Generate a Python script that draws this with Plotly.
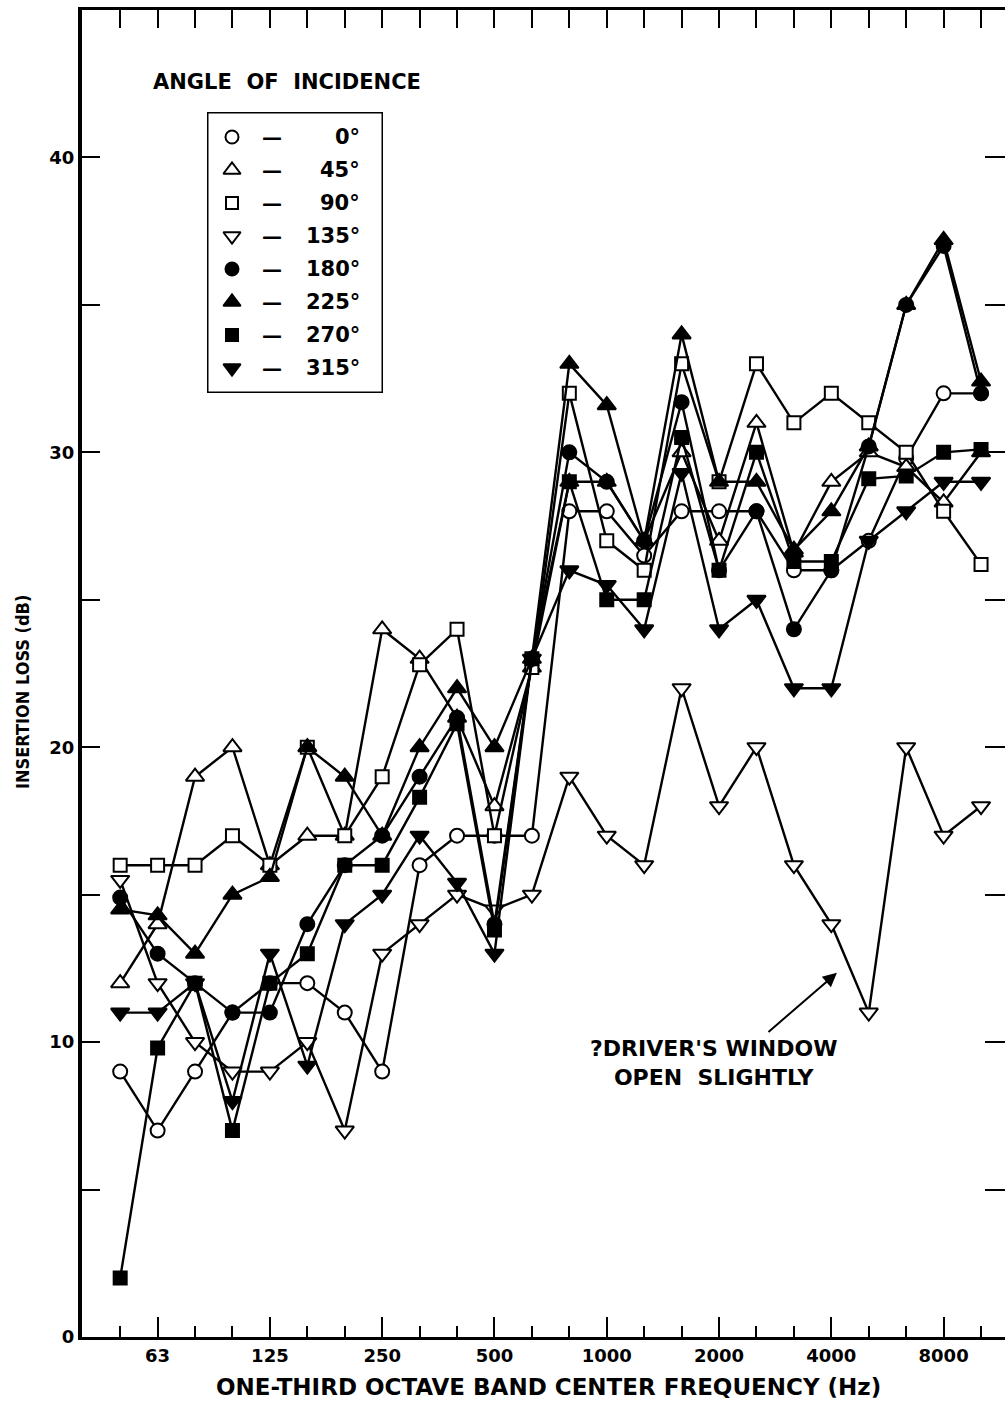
import plotly.graph_objects as go

# One-third octave band centre frequencies (Hz)
FREQ_BANDS = [50, 63, 80, 100, 125, 160, 200, 250, 315, 400, 500, 630,
              800, 1000, 1250, 1600, 2000, 2500, 3150, 4000, 5000, 6300, 8000, 10000]
LABELED_BANDS = [63, 125, 250, 500, 1000, 2000, 4000, 8000]

ANGLES = ["0°", "45°", "90°", "135°", "180°", "225°", "270°", "315°"]

# Insertion loss (dB) per band for each angle of incidence
IL_0 = [9, 7, 9, 11, 12, 12, 11, 9, 16, 17, 17, 17,
        28, 28, 26.5, 28, 28, 28, 26, 26, 27, 29.8, 32, 32]
IL_45 = [12, 14, 19, 20, 16, 17, 17, 24, 23, 21, 18, 22.7,
         29, 29, 27, 30, 27, 31, 26.6, 29, 30, 29.5, 28.3, 30]
IL_90 = [16, 16, 16, 17, 16, 20, 17, 19, 22.8, 24, 17, 22.7,
         32, 27, 26, 33, 29, 33, 31, 32, 31, 30, 28, 26.2]
IL_135 = [15.5, 12, 10, 9, 9, 10, 7, 13, 14, 15, 14.5, 15,
          19, 17, 16, 22, 18, 20, 16, 14, 11, 20, 17, 18]
IL_180 = [14.9, 13, 12, 11, 11, 14, 16, 17, 19, 21, 14, 23,
          30, 29, 27, 31.7, 26, 28, 24, 26, 30.2, 35, 37, 32]
IL_225 = [14.5, 14.3, 13, 15, 15.6, 20, 19, 17, 20, 22, 20, 23,
          33, 31.6, 27, 34, 29, 29, 26.7, 28, 30.2, 35, 37.2, 32.4]
IL_270 = [2, 9.8, 12, 7, 12, 13, 16, 16, 18.3, 20.8, 13.8, 23,
          29, 25, 25, 30.5, 26, 30, 26.3, 26.3, 29.1, 29.2, 30, 30.1]
IL_315 = [11, 11, 12, 8, 13, 9.2, 14, 15, 17, 15.4, 13, 23,
          26, 25.5, 24, 29.3, 24, 25, 22, 22, 27, 28, 29, 29]

SERIES = [IL_0, IL_45, IL_90, IL_135, IL_180, IL_225, IL_270, IL_315]

# marker symbol, fill, size for each angle
STYLES = [
    ("circle", "white", 14),
    ("triangle-up", "white", 16),
    ("square", "white", 13),
    ("triangle-down", "white", 16),
    ("circle", "black", 14),
    ("triangle-up", "black", 16),
    ("square", "black", 13),
    ("triangle-down", "black", 16),
]

W, H = 1005, 1404
L, R, T, B = 82, 0, 10, 67
FONT = "DejaVu Sans"

band_pos = list(range(len(FREQ_BANDS)))
label_pos = [FREQ_BANDS.index(f) for f in LABELED_BANDS]


def px_x(px):
    return (px - L) / (W - L - R)


def px_y(py):
    return (H - B - py) / (H - T - B)


fig = go.Figure()

for vals, (sym, fill, size) in zip(SERIES, STYLES):
    fig.add_trace(go.Scatter(
        x=band_pos, y=vals, mode="lines+markers",
        line=dict(color="black", width=2.4),
        marker=dict(symbol=sym, size=size, color=fill,
                    line=dict(color="black", width=2)),
        showlegend=False, hoverinfo="skip", cliponaxis=False,
    ))

# companion axes for the top and right tick rows
fig.add_trace(go.Scatter(x=[None], y=[None], xaxis="x2", yaxis="y2",
                         showlegend=False, hoverinfo="skip"))

# legend panel drawn on its own pixel-scaled axes
row_y = [137 + 33 * i for i in range(len(ANGLES))]
for (sym, fill, size), yy in zip(STYLES, row_y):
    fig.add_trace(go.Scatter(
        x=[232], y=[yy], xaxis="x3", yaxis="y3", mode="markers",
        marker=dict(symbol=sym, size=size - 1, color=fill,
                    line=dict(color="black", width=2)),
        showlegend=False, hoverinfo="skip", cliponaxis=False,
    ))

annotations = []
for name, yy in zip(ANGLES, row_y):
    annotations.append(dict(x=272, y=yy, xref="x3", yref="y3", text="<b>—</b>",
                            xanchor="center", yanchor="middle", showarrow=False,
                            font=dict(family=FONT, size=20, color="black")))
    annotations.append(dict(x=362, y=yy, xref="x3", yref="y3", text=name,
                            xanchor="right", yanchor="middle", showarrow=False,
                            font=dict(family=FONT, size=21, color="black", weight="bold")))

annotations += [
    dict(x=px_x(287), y=px_y(82), xref="paper", yref="paper",
         xanchor="center", yanchor="middle",
         text="ANGLE  OF  INCIDENCE", showarrow=False,
         font=dict(family=FONT, size=21, color="black", weight="bold")),
    dict(x=px_x(22), y=px_y(692), xref="paper", yref="paper", textangle=-90,
         xanchor="center", yanchor="middle",
         text="INSERTION LOSS (dB)", showarrow=False,
         font=dict(family="DejaVu Sans Condensed", size=18, color="black", weight="bold")),
    dict(x=px_x(548), y=px_y(1387), xref="paper", yref="paper",
         xanchor="center", yanchor="middle",
         text="ONE-THIRD OCTAVE BAND CENTER FREQUENCY (Hz)", showarrow=False,
         font=dict(family=FONT, size=23, color="black", weight="bold")),
    dict(x=15.85, y=9.3, xref="x", yref="y", xanchor="center", yanchor="middle",
         text="?DRIVER'S WINDOW<br>OPEN  SLIGHTLY", showarrow=False, align="center",
         font=dict(family=FONT, size=22, color="black", weight="bold")),
    dict(x=19.15, y=12.35, ax=17.28, ay=10.3, xref="x", yref="y",
         axref="x", ayref="y", text="", showarrow=True,
         arrowhead=2, arrowsize=1.4, arrowwidth=2, arrowcolor="black"),
]

tickfont = dict(family=FONT, size=18, color="black", weight="bold")
xr = [-1.02, 23.64]
yr = [0, 45]

fig.update_layout(
    width=W, height=H,
    margin=dict(l=L, r=R, t=T, b=B, autoexpand=False),
    paper_bgcolor="white", plot_bgcolor="white",
    xaxis=dict(range=xr, tickvals=label_pos, ticktext=[str(f) for f in LABELED_BANDS],
               ticks="inside", ticklen=20, tickwidth=2, tickcolor="black",
               minor=dict(tick0=0, dtick=1, ticks="inside", ticklen=11,
                          tickwidth=2, tickcolor="black"),
               showline=True, linewidth=3, linecolor="black",
               showgrid=False, zeroline=False, tickfont=tickfont, anchor="y"),
    xaxis2=dict(range=xr, overlaying="x", side="top", anchor="y2",
                tickvals=band_pos, ticks="inside", ticklen=18, tickwidth=2,
                tickcolor="black", showticklabels=False,
                showline=True, linewidth=3, linecolor="black",
                showgrid=False, zeroline=False),
    yaxis=dict(range=yr, tickvals=list(range(0, 45, 5)),
               ticktext=[str(v) if v % 10 == 0 else "" for v in range(0, 45, 5)],
               ticks="inside", ticklen=18, tickwidth=2, tickcolor="black",
               showline=True, linewidth=4, linecolor="black",
               showgrid=False, zeroline=False, tickfont=tickfont, anchor="x"),
    yaxis2=dict(range=yr, overlaying="y", side="right", anchor="x2",
                tickvals=list(range(5, 45, 5)), ticks="inside", ticklen=20,
                tickwidth=2, tickcolor="black", showticklabels=False,
                showline=False, showgrid=False, zeroline=False),
    xaxis3=dict(domain=[px_x(207), px_x(383)], range=[207, 383], anchor="y3",
                visible=False, fixedrange=True),
    yaxis3=dict(domain=[px_y(393), px_y(112)], range=[393, 112], anchor="x3",
                visible=False, fixedrange=True),
    shapes=[dict(type="rect", xref="x3", yref="y3", x0=207, x1=383, y0=112, y1=393,
                 line=dict(color="black", width=3), fillcolor="rgba(0,0,0,0)")],
    annotations=annotations,
)

fig.write_html("out.html", config={"displayModeBar": False})
